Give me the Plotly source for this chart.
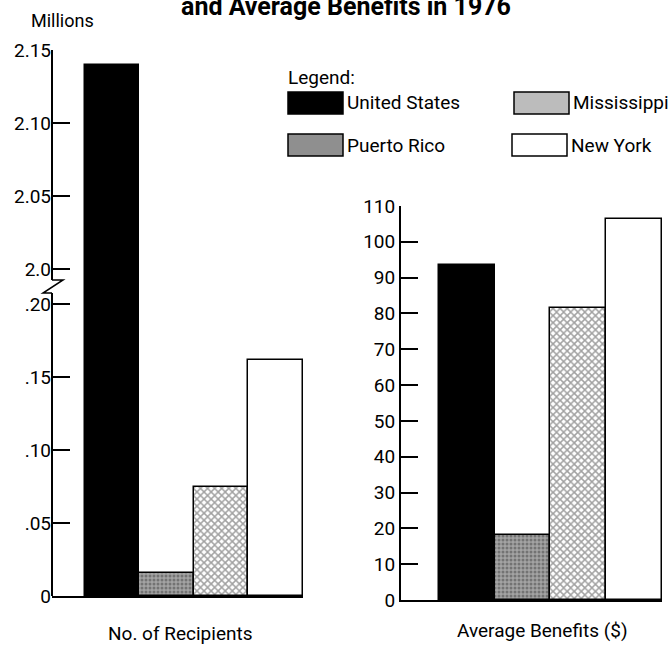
import plotly.graph_objects as go

FONT = "Roboto, Liberation Sans, sans-serif"

states = ["United States", "Puerto Rico", "Mississippi", "New York"]
recipients_millions = [2.14, 0.016, 0.075, 0.162]
avg_benefits = [93.5, 18.2, 81.5, 106.5]

left_ticks = [0, 0.05, 0.10, 0.15, 0.20, 2.0, 2.05, 2.10, 2.15]
left_ticktext = ["0", ".05", ".10", ".15", ".20", "2.0", "2.05", "2.10", "2.15"]
right_ticks = [0, 10, 20, 30, 40, 50, 60, 70, 80, 90, 100, 110]

# broken axis: everything above .20 is shifted down next to 2.0
GAP = 0.024


def brk(v):
    return v if v <= 0.2 else v - 2.0 + 0.2 + GAP


fills = ["black", "#a3a3a3", "white", "white"]
patterns = [
    dict(shape=""),
    dict(shape=".", fgcolor="#4a4a4a", bgcolor="#a8a8a8", size=4, solidity=0.45),
    dict(shape="x", fgcolor="#6a6a6a", bgcolor="#f2f2f2", size=5, solidity=0.5),
    dict(shape=""),
]
bar_marker = dict(
    color=fills,
    pattern=dict(
        shape=[p["shape"] for p in patterns],
        fgcolor=[p.get("fgcolor", "black") for p in patterns],
        bgcolor=[p.get("bgcolor", "white") for p in patterns],
        size=[p.get("size", 6) for p in patterns],
        solidity=[p.get("solidity", 0.3) for p in patterns],
    ),
    line=dict(color="black", width=1.5),
)

fig = go.Figure()
fig.add_trace(go.Bar(
    x=states, y=[brk(v) for v in recipients_millions], marker=bar_marker,
    width=1, xaxis="x", yaxis="y", showlegend=False, hoverinfo="skip",
))
fig.add_trace(go.Bar(
    x=states, y=avg_benefits, marker=bar_marker,
    width=1, xaxis="x2", yaxis="y2", showlegend=False, hoverinfo="skip",
))

W, H = 669, 657
tickfont = dict(family=FONT, size=19, color="black")

fig.update_layout(
    width=W, height=H, autosize=False,
    margin=dict(l=0, r=0, t=0, b=0, pad=0),
    paper_bgcolor="white", plot_bgcolor="white",
    font=dict(family=FONT, color="black"),
    bargap=0,
    xaxis=dict(domain=[52 / W, 303 / W], range=[-1.1, 3.5], showticklabels=False,
               ticks="", showline=True, linewidth=2, linecolor="black",
               showgrid=False, zeroline=False, anchor="y", automargin=False),
    yaxis=dict(domain=[(H - 596) / H, (H - 50) / H], range=[0, brk(2.15)],
               tickvals=[brk(v) for v in left_ticks], ticktext=left_ticktext,
               ticks="inside", ticklen=18, tickwidth=2, tickcolor="black",
               tickfont=tickfont, showline=False, showgrid=False, zeroline=False,
               anchor="x", automargin=False),
    xaxis2=dict(domain=[401 / W, 662 / W], range=[-1.18, 3.5], showticklabels=False,
                ticks="", showline=True, linewidth=2, linecolor="black",
                showgrid=False, zeroline=False, anchor="y2", automargin=False),
    yaxis2=dict(domain=[(H - 600) / H, (H - 206) / H], range=[0, 110],
                tickvals=right_ticks, ticks="inside", ticklen=17, tickwidth=2,
                tickcolor="black", tickfont=tickfont, showline=True, linewidth=2,
                linecolor="black", showgrid=False, zeroline=False, anchor="x2",
                automargin=False),
)

# left axis line with break mark
lo_top = 0.2 + 11 / 1460
hi_bot = brk(2.0) - 11 / 1460
axis_line = dict(color="black", width=2)
fig.add_shape(type="line", xref="x domain", yref="y", x0=0, x1=0, y0=0, y1=lo_top, line=axis_line)
fig.add_shape(type="line", xref="x domain", yref="y", x0=0, x1=0, y0=hi_bot, y1=brk(2.15), line=axis_line)
fig.add_shape(type="path", xref="x domain", yref="y",
              path=f"M 0 {hi_bot} L 0.044 {hi_bot} L -0.036 {lo_top} L 0 {lo_top}",
              line=dict(color="black", width=1.5))


def px(x, y):
    return x / W, 1 - y / H


# legend
fig.add_annotation(x=px(286, 0)[0], y=px(0, 77)[1], xref="paper", yref="paper",
                   text="Legend:", showarrow=False, xanchor="left", yanchor="middle",
                   font=dict(family=FONT, size=19))
legend_items = [
    ("United States", "black", 288, 92),
    ("Mississippi", "#bcbcbc", 514, 92),
    ("Puerto Rico", "#8f8f8f", 288, 134),
    ("New York", "white", 512, 134),
]
for name, col, lx, ly in legend_items:
    x0, y0 = px(lx, ly)
    x1, y1 = px(lx + 55, ly + 22)
    fig.add_shape(type="rect", xref="paper", yref="paper", x0=x0, x1=x1, y0=y1, y1=y0,
                  fillcolor=col, line=dict(color="black", width=1.5))
    fig.add_annotation(x=px(lx + 57, 0)[0], y=px(0, ly + 11)[1], xref="paper", yref="paper",
                       text=name, showarrow=False, xanchor="left", yanchor="middle",
                       font=dict(family=FONT, size=19))

# text labels
fig.add_annotation(x=px(62, 0)[0], y=px(0, 20)[1], xref="paper", yref="paper",
                   text="Millions", showarrow=False, xanchor="center", yanchor="middle",
                   font=dict(family=FONT, size=18))
fig.add_annotation(x=px(180, 0)[0], y=px(0, 633)[1], xref="paper", yref="paper",
                   text="No. of Recipients", showarrow=False, xanchor="center",
                   yanchor="middle", font=dict(family=FONT, size=19))
fig.add_annotation(x=px(542, 0)[0], y=px(0, 630)[1], xref="paper", yref="paper",
                   text="Average Benefits ($)", showarrow=False, xanchor="center",
                   yanchor="middle", font=dict(family=FONT, size=19))
# title is cropped at the top edge in the source scan
fig.add_annotation(x=px(346, 0)[0], y=px(0, 6)[1], xref="paper", yref="paper",
                   text="<b>and Average Benefits in 1976</b>", showarrow=False,
                   xanchor="center", yanchor="middle", font=dict(family=FONT, size=25))

fig.write_html("out.html", config={"displayModeBar": False},
               post_script="document.body.style.margin = '0';")
